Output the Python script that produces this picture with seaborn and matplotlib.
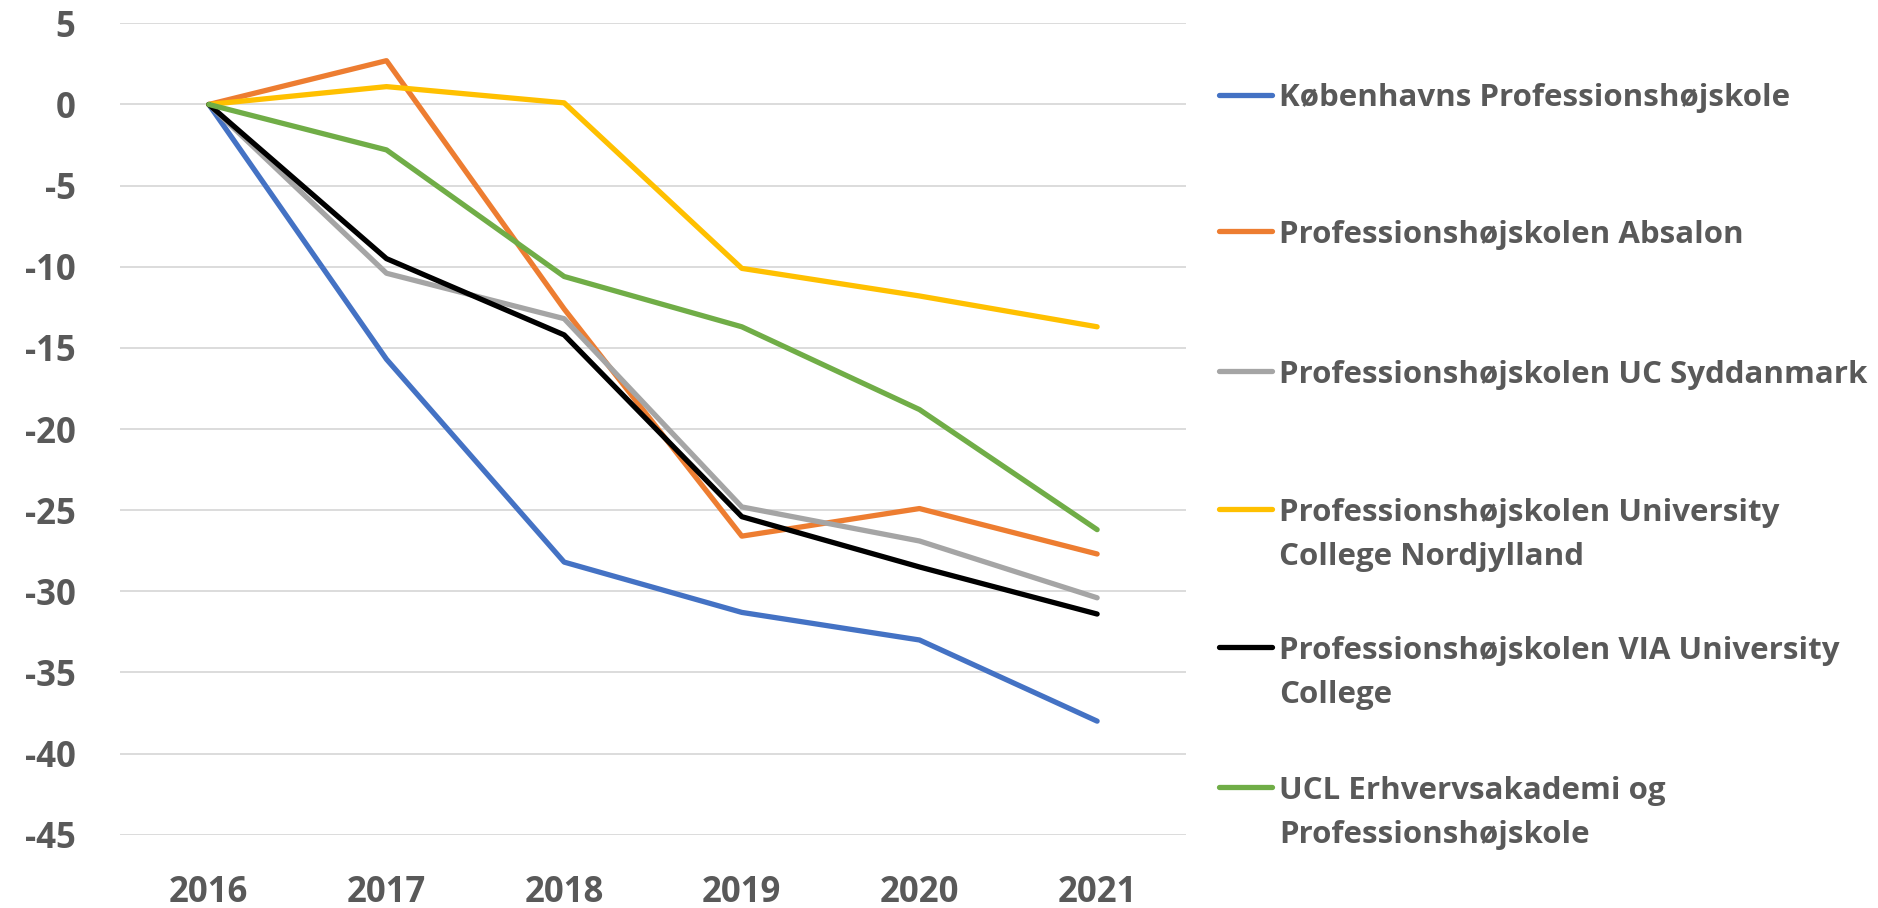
import pandas as pd
import seaborn as sns
import matplotlib.pyplot as plt
from matplotlib.lines import Line2D

# Data (index change vs. 2016)
years = [2016, 2017, 2018, 2019, 2020, 2021]
kp = [0, -15.7, -28.2, -31.3, -33.0, -38.0]
absalon = [0, 2.7, -12.6, -26.6, -24.9, -27.7]
syddanmark = [0, -10.4, -13.2, -24.8, -26.9, -30.4]
nordjylland = [0, 1.1, 0.1, -10.1, -11.8, -13.7]
via = [0, -9.5, -14.2, -25.4, -28.5, -31.4]
ucl = [0, -2.8, -10.6, -13.7, -18.8, -26.2]

names = [
    "Københavns Professionshøjskole",
    "Professionshøjskolen Absalon",
    "Professionshøjskolen UC Syddanmark",
    "Professionshøjskolen University\nCollege Nordjylland",
    "Professionshøjskolen VIA University\nCollege",
    "UCL Erhvervsakademi og\nProfessionshøjskole",
]
series = [kp, absalon, syddanmark, nordjylland, via, ucl]
colors = ["#4472C4", "#ED7D31", "#A5A5A5", "#FFC000", "#000000", "#70AD47"]

# Build a long data frame for seaborn
rows = []
for name, values in zip(names, series):
    for year, value in zip(years, values):
        rows.append({"year": year, "value": value, "school": name})
df = pd.DataFrame(rows)

sns.set_style("white")
plt.rcParams["font.family"] = ["Open Sans", "DejaVu Sans"]
plt.rcParams["axes.unicode_minus"] = False

fig = plt.figure(figsize=(18.78, 9.08), dpi=100)
ax = fig.add_axes([0.0639, 0.0807, 0.5676, 0.8936])

sns.lineplot(data=df, x="year", y="value", hue="school", hue_order=names,
             palette=colors, linewidth=3.8, legend=False, ax=ax,
             solid_capstyle="round")

ax.set_xlim(2015.5, 2021.5)
ax.set_ylim(-45, 5)
ax.set_yticks(range(-45, 6, 5))
ax.set_xticks(years)
ax.yaxis.grid(True, color="#D9D9D9", linewidth=1.3)
ax.set_axisbelow(True)
for side in ["left", "right", "top", "bottom"]:
    ax.spines[side].set_visible(False)
ax.set_xlabel("")
ax.set_ylabel("")
ax.tick_params(axis="both", length=0, labelsize=25, labelcolor="#595959")
ax.tick_params(axis="y", pad=32)
ax.tick_params(axis="x", pad=29)
for label in ax.get_xticklabels() + ax.get_yticklabels():
    label.set_fontweight("bold")

# Legend laid out like the Excel one: evenly spaced entries on the right
W, H = 1878, 908
first_y = [94.6, 231, 371, 509, 647, 787]
line_gap = 44.3
for name, color, y in zip(names, colors, first_y):
    fy = 1 - y / H
    fig.add_artist(Line2D([1219 / W, 1272 / W], [fy, fy], color=color,
                          linewidth=3.8, solid_capstyle="round",
                          transform=fig.transFigure))
    for k, part in enumerate(name.split("\n")):
        fig.text(1279 / W, 1 - (y + k * line_gap) / H, part, fontsize=22.5,
                 fontweight="bold", color="#595959",
                 va="center_baseline", ha="left")

fig.savefig("out.png", dpi=100)
